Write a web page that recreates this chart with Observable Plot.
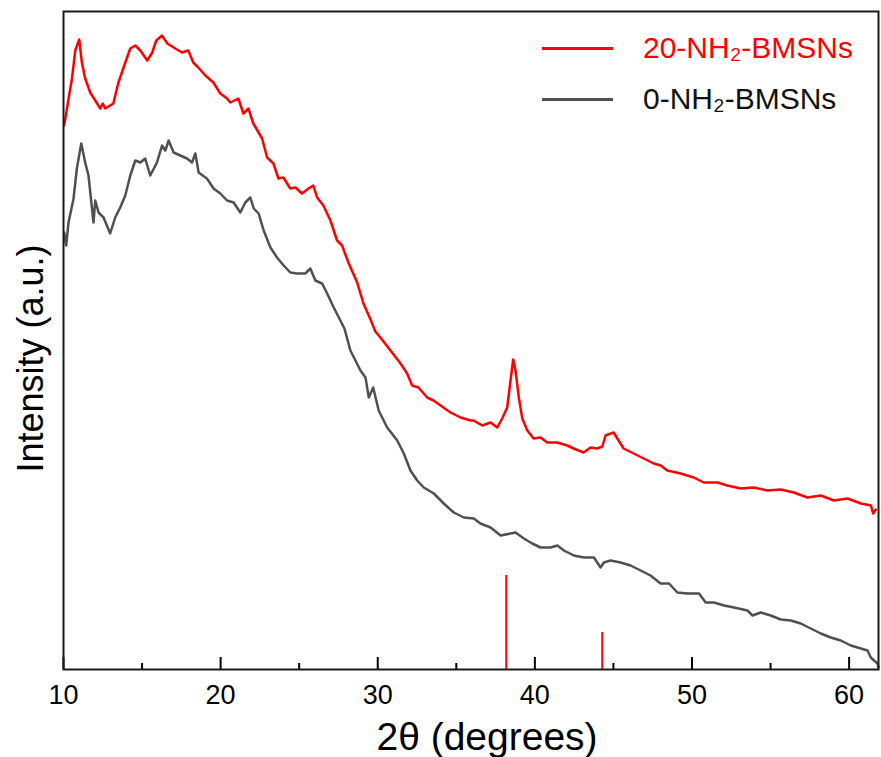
<!DOCTYPE html>
<html><head><meta charset="utf-8">
<script src="https://cdn.jsdelivr.net/npm/d3@7"></script>
<script src="https://cdn.jsdelivr.net/npm/@observablehq/plot@0.6"></script>
<style>
body{margin:0;background:#fff;}
#wrap{position:relative;width:881px;height:757px;font-family:"Liberation Sans",Arial,sans-serif;}
.leg{position:absolute;left:542px;display:flex;align-items:center;height:40px;font-size:30px;white-space:nowrap;}
.leg .sw{width:71px;height:3px;margin-right:30px;}
</style></head><body><div id="wrap"></div>
<script>
// 20-NH2-BMSNs (red)
const redTheta = [10.04,10.54,10.75,11.00,11.17,11.38,11.70,12.02,12.34,12.50,12.66,12.76,13.17,13.48,13.80,14.25,14.57,14.89,15.33,15.65,15.90,16.27,16.61,17.12,17.54,17.94,18.26,18.58,19.03,19.54,19.98,20.41,20.62,21.13,21.45,21.77,22.08,22.64,22.96,23.36,23.68,23.99,24.44,24.76,25.18,25.59,25.90,26.14,26.54,26.99,27.41,27.73,28.13,28.69,29.09,29.54,29.85,30.17,30.81,31.45,31.87,32.19,32.59,33.15,33.55,34.00,34.63,35.27,35.91,36.10,36.65,37.18,37.61,37.92,38.24,38.45,38.62,38.77,38.98,39.20,39.52,39.92,40.36,40.79,41.43,42.06,42.47,43.10,43.55,43.97,44.29,44.50,45.01,45.33,45.65,46.29,46.93,47.56,48.01,48.43,49.28,50.11,50.75,51.62,52.25,53.10,53.93,54.80,55.65,56.48,57.35,58.20,59.03,59.90,60.75,61.39,61.53,61.70];
const redInt = [544,591,619,630,607,591,577,569,561,566,561,562,566,586,601,621,624,619,609,617,629,634,626,621,617,619,607,602,594,587,576,571,567,571,556,561,546,531,512,506,491,492,481,482,476,481,484,472,464,449,429,424,407,387,366,350,338,332,319,306,296,284,282,272,269,264,257,252,249,249,244,247,242,251,262,289,310,299,272,251,239,231,232,227,227,224,221,217,222,221,223,234,237,229,221,216,211,206,204,199,196,192,187,187,184,181,182,179,180,177,172,174,169,171,166,164,156,160];
// 0-NH2-BMSNs (gray)
const grayTheta = [10.04,10.17,10.32,10.64,10.85,11.13,11.38,11.59,11.91,12.02,12.23,12.55,12.97,13.29,13.61,13.93,14.25,14.57,14.89,15.20,15.52,15.95,16.27,16.48,16.69,17.01,17.43,17.86,18.18,18.39,18.60,19.13,19.55,19.98,20.41,20.83,21.25,21.57,21.89,22.11,22.42,22.74,23.17,23.59,24.01,24.44,24.87,25.39,25.71,26.03,26.46,26.78,27.20,27.62,27.88,28.26,28.90,29.22,29.43,29.71,30.06,30.60,31.24,31.66,32.08,32.51,32.93,33.57,34.20,34.84,35.48,36.11,36.54,37.18,37.82,38.45,38.77,39.30,39.83,40.36,41.00,41.43,41.85,42.48,43.12,43.76,44.18,44.39,44.82,45.46,46.09,46.73,47.36,48.00,48.54,49.07,49.71,50.45,50.87,51.40,52.04,52.68,53.53,53.85,54.38,55.01,55.65,56.29,56.92,57.56,58.20,58.83,59.47,60.11,60.75,61.17,61.38,61.59,61.81,61.87];
const grayInt = [437,424,447,471,501,526,507,494,447,469,457,452,436,452,462,474,494,509,507,511,494,507,524,519,529,517,514,511,507,516,497,491,481,476,469,467,457,467,472,461,456,439,422,412,404,397,396,396,401,389,386,376,362,349,341,319,299,292,272,282,259,242,229,216,199,189,182,176,166,157,152,151,146,142,134,136,137,131,126,122,122,124,119,114,112,112,102,107,109,107,104,99,94,86,86,77,76,76,67,67,64,62,59,54,57,54,50,49,46,41,36,32,29,24,21,19,12,9,6,2];
// Reference pattern sticks (Ag)
const refPos = [38.18, 44.29];
const refHeight = [94, 37];
const majorTicks = [10, 20, 30, 40, 50, 60];
const minorTicks = [15, 25, 35, 45, 55];
const seriesNames = ["20-NH\u2082-BMSNs", "0-NH\u2082-BMSNs"];
const seriesColors = ["#ff0000", "#505050"];
const legendTextColors = ["#ff0000", "#111111"];

const red = redTheta.map((t, i) => ({t, v: redInt[i]}));
const gray = grayTheta.map((t, i) => ({t, v: grayInt[i]}));
const refs = refPos.map((p, i) => ({p, h: refHeight[i]}));

const chart = Plot.plot({
  width: 881, height: 757,
  marginLeft: 63, marginRight: 3, marginTop: 11, marginBottom: 88,
  style: {fontFamily: "Liberation Sans, Arial, sans-serif", background: "#fff", color: "#000"},
  x: {domain: [10, 61.87]},
  y: {domain: [0, 658], axis: null},
  marks: [
    Plot.ruleX(refs, {x: "p", y1: 0, y2: "h", stroke: "#ff0000", strokeWidth: 2}),
    Plot.line(gray, {x: "t", y: "v", stroke: seriesColors[1], strokeWidth: 2.5, strokeLinejoin: "round"}),
    Plot.line(red, {x: "t", y: "v", stroke: seriesColors[0], strokeWidth: 2.5, strokeLinejoin: "round"}),
    Plot.axisX(majorTicks, {tickSize: -12, tickFormat: () => "", label: null, strokeWidth: 2}),
    Plot.axisX(minorTicks, {tickSize: -6, tickFormat: () => "", label: null, strokeWidth: 2}),
    Plot.axisX(majorTicks, {tickSize: 0, tickPadding: 15, fontSize: 27, label: null, fill: "#000"}),
    Plot.frame({stroke: "#1a1a1a", strokeWidth: 2}),
    Plot.text(["Intensity (a.u.)"], {frameAnchor: "left", textAnchor: "middle", lineAnchor: "middle", rotate: -90, dx: -32, dy: 18, fontSize: 36, fill: "#000"}),
    Plot.text(["2\u03b8 (degrees)"], {frameAnchor: "bottom", textAnchor: "middle", lineAnchor: "middle", dx: 16, dy: 68, fontSize: 39, fill: "#000"})
  ]
});
const wrap = document.getElementById("wrap");
wrap.appendChild(chart);
const legendTops = [28, 79];
seriesNames.forEach((name, i) => {
  const row = document.createElement("div");
  row.className = "leg";
  row.style.top = legendTops[i] + "px";
  const sw = document.createElement("div");
  sw.className = "sw";
  sw.style.background = seriesColors[i];
  const tx = document.createElement("span");
  tx.textContent = name;
  tx.style.color = legendTextColors[i];
  row.appendChild(sw); row.appendChild(tx);
  wrap.appendChild(row);
});
</script>
</body></html>
